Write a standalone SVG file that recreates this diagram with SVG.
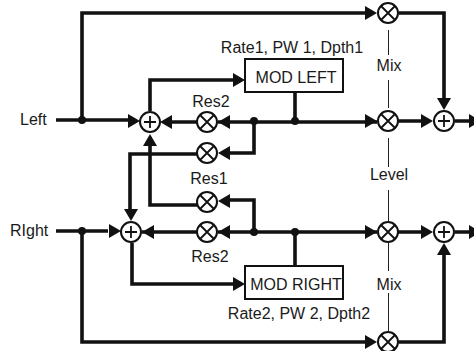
<svg xmlns="http://www.w3.org/2000/svg" width="474" height="351" viewBox="0 0 474 351">
<style>
text{font-family:"Liberation Sans",Arial,sans-serif;font-size:16px;fill:#1a1a1a}
.m{text-anchor:middle}
.w{fill:none;stroke:#111;stroke-width:3.6}
.t{fill:none;stroke:#222;stroke-width:1}
.a{fill:#111}
.n{fill:#fff;stroke:#111;stroke-width:2}
.g{fill:none;stroke:#111;stroke-width:1.8}
.b{fill:#fff;stroke:#111;stroke-width:2}
.d{fill:#111}
</style>
<defs>
<g id="mul"><circle r="10" class="n"/><path class="g" d="M-7-7L7 7M-7 7L7-7"/></g>
<g id="sum"><circle r="10" class="n"/><path class="g" d="M-6 0H6M0-6V6"/></g>
<path id="ar" class="a" d="M0 0L-12-7V7Z"/>
</defs>
<g id="connectors">
<path class="w" d="M56 120H128M82 120V13H367M399 13H444V100M82 232V342H367M399 342H444V255M56 231H108M150 111V80H234M172 122H197M218 122H377M397 121H422M455 121H470M254 121V153H230M197 154H130V212M197 205H150V145M295 92V121M295 266V232M142 232H197M218 232H377M397 232H422M455 232H470M254 232V200H230M132 243V284H234"/>
<path class="t" d="M388.5 30V55M388.5 80V108M388.5 138V167M388.5 190V221M388.5 243V271M388.5 293V331"/>
<use href="#ar" x="377" y="13"/><use href="#ar" x="140" y="121"/>
<use href="#ar" transform="translate(160 122) rotate(180)"/>
<use href="#ar" transform="translate(218 122) rotate(180)"/>
<use href="#ar" transform="translate(218 153) rotate(180)"/>
<use href="#ar" transform="translate(150 134) rotate(-90)"/>
<use href="#ar" x="245" y="80"/><use href="#ar" x="377" y="121"/><use href="#ar" x="433" y="121"/>
<use href="#ar" transform="translate(444 110) rotate(90)"/>
<use href="#ar" x="481" y="121"/>
<use href="#ar" transform="translate(131 221) rotate(90)"/>
<use href="#ar" x="121" y="231"/>
<use href="#ar" transform="translate(142 232) rotate(180)"/>
<use href="#ar" transform="translate(218 232) rotate(180)"/>
<use href="#ar" transform="translate(218 201) rotate(180)"/>
<use href="#ar" x="245" y="284"/><use href="#ar" x="377" y="232"/><use href="#ar" x="433" y="232"/>
<use href="#ar" x="481" y="232"/><use href="#ar" x="377" y="342"/>
<use href="#ar" transform="translate(444 243) rotate(-90)"/>
<circle class="d" cx="82" cy="120" r="4"/><circle class="d" cx="254" cy="121" r="4"/><circle class="d" cx="295" cy="121" r="4"/>
<circle class="d" cx="82" cy="231" r="4"/><circle class="d" cx="254" cy="232" r="4"/><circle class="d" cx="295" cy="232" r="4"/>
</g>
<g id="node-mix-top"><use href="#mul" x="388" y="13"/></g>
<g id="node-level-left"><use href="#mul" x="388" y="121"/></g>
<g id="node-level-right"><use href="#mul" x="388" y="232"/></g>
<g id="node-mix-bottom"><use href="#mul" x="388" y="342"/></g>
<g id="node-res2-left"><use href="#mul" x="207" y="122"/></g>
<g id="node-res1-left"><use href="#mul" x="207" y="153"/></g>
<g id="node-res1-right"><use href="#mul" x="207" y="202"/></g>
<g id="node-res2-right"><use href="#mul" x="207" y="232"/></g>
<g id="node-sum-left"><use href="#sum" x="150" y="122"/></g>
<g id="node-sum-right"><use href="#sum" x="131" y="232"/></g>
<g id="node-out-left"><use href="#sum" x="444" y="121"/></g>
<g id="node-out-right"><use href="#sum" x="444" y="232"/></g>
<g id="node-mod-left"><rect class="b" x="245" y="59" width="98" height="33"/><text class="m" x="296" y="83">MOD LEFT</text></g>
<g id="node-mod-right"><rect class="b" x="245" y="266" width="98" height="33"/><text class="m" x="296" y="290">MOD RIGHT</text></g>
<g id="labels">
<text x="20" y="125">Left</text>
<text x="10" y="236">RIght</text>
<text class="m" x="211" y="107">Res2</text>
<text class="m" x="209" y="184">Res1</text>
<text class="m" x="210" y="262">Res2</text>
<text class="m" x="292" y="53">Rate1, PW 1, Dpth1</text>
<text class="m" x="299" y="319">Rate2, PW 2, Dpth2</text>
<text class="m" x="389" y="71">Mix</text>
<text class="m" x="389" y="180">Level</text>
<text class="m" x="389" y="290">Mix</text>
</g>
</svg>
